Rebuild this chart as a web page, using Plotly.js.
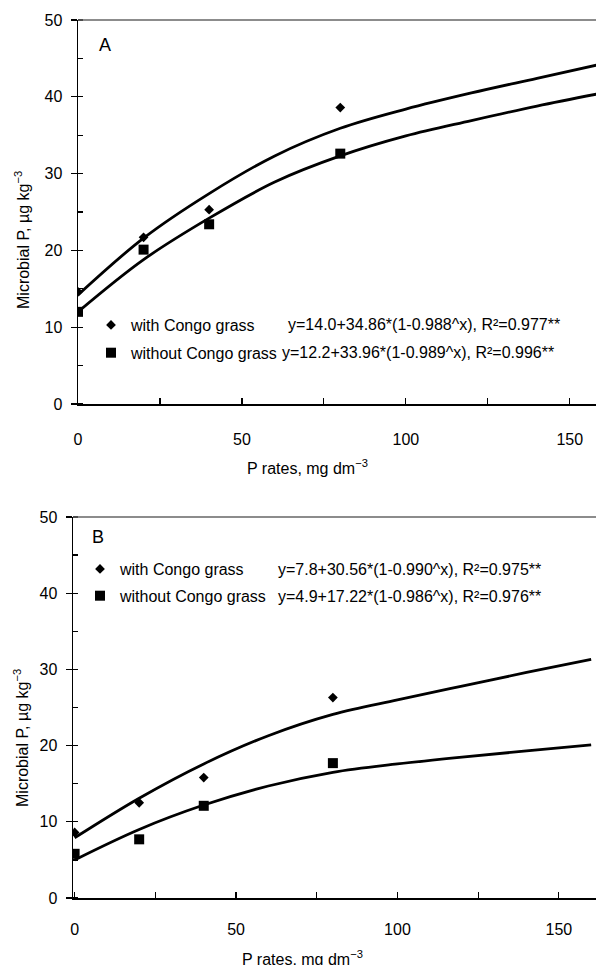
<!DOCTYPE html>
<html>
<head>
<meta charset="utf-8">
<script src="https://cdn.plot.ly/plotly-3.0.1.min.js"></script>
<style>html,body{margin:0;padding:0;background:#fff;}</style>
</head>
<body>
<div id="chart" style="width:596px;height:965px;"></div>
<script>
// ---- data ----
const pRates = [0, 20, 40, 80];
const aWith = [14.6, 21.7, 25.3, 38.6];
const aWithout = [12.0, 20.1, 23.4, 32.6];
const bWith = [8.6, 12.5, 15.8, 26.3];
const bWithout = [5.8, 7.7, 12.1, 17.7];

const curveX = [0, 20, 40, 60, 80, 100, 120, 140, 160];
const aWithFit = [14.2, 21.6, 27.4, 32.3, 35.9, 38.4, 40.5, 42.4, 44.3];
const aWithoutFit = [12.0, 18.8, 24.2, 28.9, 32.3, 34.9, 36.9, 38.8, 40.5];
const bWithFit = [7.9, 13.1, 17.6, 21.3, 24.1, 26.0, 27.8, 29.6, 31.3];
const bWithoutFit = [5.0, 9.0, 12.2, 14.7, 16.5, 17.6, 18.5, 19.3, 20.1];

const seriesNames = ['with Congo grass', 'without Congo grass'];
const eqA = ['y=14.0+34.86*(1-0.988^x), R²=0.977**', 'y=12.2+33.96*(1-0.989^x), R²=0.996**'];
const eqB = ['y=7.8+30.56*(1-0.990^x), R²=0.975**', 'y=4.9+17.22*(1-0.986^x), R²=0.976**'];
const panelLabels = ['A', 'B'];
const xTitle = 'P rates, mg dm<sup>−3</sup>';
const yTitle = 'Microbial P, µg kg<sup>−3</sup>';

// ---- figure ----
const W = 596, H = 965;
const FONT = 'Liberation Sans, Arial, sans-serif';
const px = v => v / W;
const py = v => 1 - v / H;

function fitLine(x, y, xa, ya) {
  return {x: x, y: y, xaxis: xa, yaxis: ya, type: 'scatter', mode: 'lines',
    line: {color: '#000', width: 2.8, shape: 'spline', smoothing: 1},
    showlegend: false, hoverinfo: 'skip'};
}
function pts(x, y, xa, ya, sym, size, name, leg, grp) {
  return {x: x, y: y, xaxis: xa, yaxis: ya, type: 'scatter', mode: 'markers',
    marker: {symbol: sym, size: size, color: '#000'}, name: name,
    legend: leg, legendgroup: grp, showlegend: true};
}

const data = [
  fitLine(curveX, aWithFit, 'x', 'y'),
  fitLine(curveX, aWithoutFit, 'x', 'y'),
  fitLine(curveX, bWithFit, 'x2', 'y2'),
  fitLine(curveX, bWithoutFit, 'x2', 'y2'),
  pts(pRates, aWith, 'x', 'y', 'diamond', 7.5, seriesNames[0], 'legend', 'a1'),
  pts(pRates, aWithout, 'x', 'y', 'square', 10, seriesNames[1], 'legend', 'a2'),
  pts(pRates, bWith, 'x2', 'y2', 'diamond', 7.5, seriesNames[0], 'legend2', 'b1'),
  pts(pRates, bWithout, 'x2', 'y2', 'square', 10, seriesNames[1], 'legend2', 'b2')
];

function xAxis(dom, rng, anchor, lblStandoff) {
  return {domain: dom, range: rng, anchor: anchor, automargin: false,
    showline: true, linecolor: '#000', linewidth: 1.5, showgrid: false, zeroline: false,
    ticks: 'inside', ticklen: 6, tickcolor: '#000', tickwidth: 1.2, tick0: 0, dtick: 50,
    minor: {ticks: 'inside', ticklen: 6, dtick: 25, tick0: 0, tickcolor: '#000', tickwidth: 1.2},
    ticklabelstandoff: lblStandoff,
    tickfont: {family: FONT, size: 16, color: '#000'}};
}
function yAxis(dom, anchor, lblStandoff) {
  return {domain: dom, range: [0, 50], anchor: anchor, automargin: false,
    showline: true, linecolor: '#000', linewidth: 1.5, showgrid: false, zeroline: false,
    ticks: 'outside', ticklen: 6, tickcolor: '#000', tickwidth: 1.2, tick0: 0, dtick: 10,
    minor: {ticks: 'inside', ticklen: 5, dtick: 5, tick0: 0, tickcolor: '#000', tickwidth: 1.2},
    ticklabelstandoff: lblStandoff,
    tickfont: {family: FONT, size: 16, color: '#000'}};
}

const legendBase = {bgcolor: 'rgba(0,0,0,0)', borderwidth: 0, xanchor: 'left', yanchor: 'top',
  font: {family: FONT, size: 16, color: '#000'}, traceorder: 'grouped'};

const annFont = {family: FONT, size: 16, color: '#000'};
function ann(text, x, y, opts) {
  return Object.assign({text: text, xref: 'paper', yref: 'paper', x: px(x), y: py(y),
    showarrow: false, xanchor: 'left', yanchor: 'middle', font: annFont}, opts || {});
}
const annotations = [
  ann(panelLabels[0], 105, 45, {xanchor: 'center', font: {family: FONT, size: 18, color: '#000'}}),
  ann(panelLabels[1], 98, 537, {xanchor: 'center', font: {family: FONT, size: 18, color: '#000'}}),
  ann(eqA[0], 286, 324),
  ann(eqA[1], 280, 352),
  ann(eqB[0], 276, 569),
  ann(eqB[1], 276, 596),
  // axis titles
  ann(xTitle, 307, 467, {xanchor: 'center'}),
  ann(xTitle, 302, 958, {xanchor: 'center'}),
  ann(yTitle, 22, 240, {xanchor: 'center', textangle: -90}),
  ann(yTitle, 21, 738, {xanchor: 'center', textangle: -90})
];

const shapes = [
  {type: 'line', xref: 'x domain', yref: 'y domain', x0: 0, x1: 1, y0: 1, y1: 1, line: {color: '#666', width: 1.5}},
  {type: 'line', xref: 'x2 domain', yref: 'y2 domain', x0: 0, x1: 1, y0: 1, y1: 1, line: {color: '#666', width: 1.5}}
];

const layout = {
  width: W, height: H, margin: {l: 0, r: 0, t: 0, b: 0},
  paper_bgcolor: '#fff', plot_bgcolor: '#fff',
  font: {family: FONT, size: 16, color: '#000'},
  xaxis: xAxis([px(78), 1], [0, 158], 'y', 20),
  yaxis: yAxis([py(404), py(20)], 'x', 5),
  xaxis2: xAxis([px(73), 1], [-0.5, 161.5], 'y2', 16),
  yaxis2: yAxis([py(898), py(517)], 'x2', 5),
  legend: Object.assign({}, legendBase, {x: px(91), y: py(308), tracegroupgap: 4}),
  legend2: Object.assign({}, legendBase, {x: px(80), y: py(552), tracegroupgap: 3}),
  annotations: annotations,
  shapes: shapes,
  showlegend: true
};

Plotly.newPlot('chart', data, layout, {staticPlot: true, displayModeBar: false});
</script>
</body>
</html>
